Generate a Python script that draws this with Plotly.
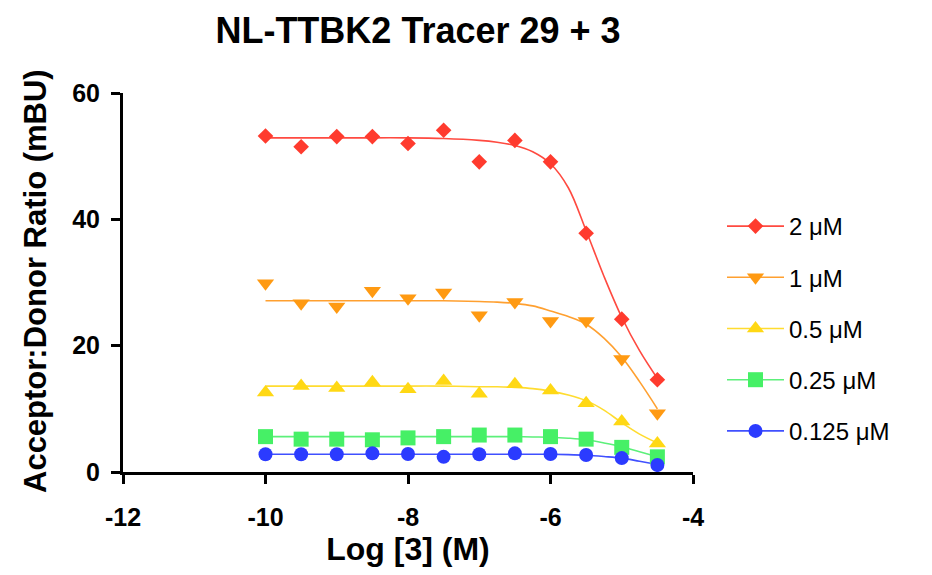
import plotly.graph_objects as go

log_conc = [-10, -9.5, -9, -8.5, -8, -7.5, -7, -6.5, -6, -5.5, -5, -4.5]

series_names = ["2 μM", "1 μM", "0.5 μM", "0.25 μM", "0.125 μM"]

y_2uM = [53.2, 51.5, 53.1, 53.1, 52.0, 54.1, 49.1, 52.5, 49.1, 37.8, 24.2, 14.6]
y_1uM = [29.9, 26.7, 26.2, 28.7, 27.5, 28.4, 24.8, 26.9, 23.9, 23.9, 17.9, 9.3]
y_05uM = [12.6, 13.6, 13.3, 14.2, 13.1, 14.4, 12.4, 13.9, 12.9, 10.9, 8.0, 4.5]
y_025uM = [5.6, 5.2, 5.2, 5.1, 5.4, 5.6, 5.85, 5.85, 5.6, 5.2, 3.9, 2.4]
y_0125uM = [2.8, 2.8, 2.8, 2.95, 2.85, 2.4, 2.8, 2.95, 2.85, 2.7, 2.2, 1.1]

# fitted curves
fit_x = [-10, -9.5, -9, -8.5, -8, -7.5, -7, -6.75, -6.5, -6.25, -6, -5.75, -5.5, -5.25, -5, -4.75, -4.5]
fit_2uM = [52.9, 52.9, 52.9, 52.9, 52.9, 52.8, 52.5, 52.2, 51.7, 50.7, 48.8, 45.0, 38.2, 31.0, 24.5, 19.2, 14.8]
fit_1uM = [27.1, 27.1, 27.1, 27.1, 27.1, 27.1, 27.0, 26.9, 26.7, 26.3, 25.5, 24.6, 23.4, 21.2, 18.2, 14.3, 10.0]
fit_05uM = [13.6, 13.6, 13.6, 13.6, 13.6, 13.6, 13.5, 13.5, 13.4, 13.2, 12.8, 12.2, 11.3, 9.8, 7.8, 6.0, 4.6]
fit_025uM = [5.6, 5.6, 5.6, 5.6, 5.6, 5.6, 5.6, 5.6, 5.6, 5.55, 5.5, 5.35, 5.1, 4.6, 4.0, 3.2, 2.4]
fit_0125uM = [2.8, 2.8, 2.8, 2.8, 2.8, 2.8, 2.8, 2.8, 2.8, 2.8, 2.8, 2.75, 2.65, 2.45, 2.2, 1.7, 1.2]

x_ticks = [-12, -10, -8, -6, -4]
x_tick_labels = ["-12", "-10", "-8", "-6", "-4"]
y_ticks = [0, 20, 40, 60]
y_tick_labels = ["0", "20", "40", "60"]

points = [y_2uM, y_1uM, y_05uM, y_025uM, y_0125uM]
fits = [fit_2uM, fit_1uM, fit_05uM, fit_025uM, fit_0125uM]
marker_colors = ["#FF3B2E", "#FF9A12", "#FFD814", "#46F066", "#2B3BFF"]
line_colors = ["#FF4A40", "#FFA030", "#FFDC30", "#5CF07A", "#4050FF"]
symbols = ["diamond", "triangle-down", "triangle-up", "square", "circle"]
sizes = [12, 15, 15, 15, 14]

FONT = "Liberation Sans, Arial, sans-serif"

fig = go.Figure()
for i, name in enumerate(series_names):
    fig.add_trace(go.Scatter(
        x=fit_x, y=fits[i], mode="lines", line=dict(color=line_colors[i], width=1.6, shape="spline"),
        showlegend=False, hoverinfo="skip"))
for i, name in enumerate(series_names):
    fig.add_trace(go.Scatter(
        x=log_conc, y=points[i], mode="markers", showlegend=False,
        marker=dict(symbol=symbols[i], size=sizes[i], color=marker_colors[i], line=dict(width=0))))
for i, name in enumerate(series_names):
    fig.add_trace(go.Scatter(
        x=[None], y=[None], mode="lines+markers", name=name, legendgroup=name,
        line=dict(color=line_colors[i], width=1.6),
        marker=dict(symbol=symbols[i], size=sizes[i], color=marker_colors[i], line=dict(width=0))))

# page body has an 8px default margin; plot area placed so it lands at x 123-693, y 93-472 on screen
L, T, R, B = 115, 85, 685, 464
tick_font = dict(family=FONT, size=25, color="black")
fig.update_layout(
    width=932, height=575,
    margin=dict(l=L, r=932 - R, t=T, b=575 - B),
    paper_bgcolor="white", plot_bgcolor="white",
    title=dict(text="<b>NL-TTBK2 Tracer 29 + 3</b>", x=410/932, xanchor="center", y=1 - 22/575, yanchor="middle",
               font=dict(family=FONT, size=36, color="black")),
    xaxis=dict(range=[-12, -4], tickvals=x_ticks, ticktext=["<b>%s</b>" % t for t in x_tick_labels],
               showline=True, linecolor="black", linewidth=3, automargin=False,
               ticks="outside", ticklen=9, tickwidth=3, tickcolor="black", showgrid=False, zeroline=False,
               tickfont=tick_font, ticklabelstandoff=12,
               title=dict(text="<b>Log [3] (M)</b>", font=dict(family=FONT, size=32, color="black"), standoff=5)),
    yaxis=dict(range=[0, 60], tickvals=y_ticks, ticktext=["<b>%s</b>" % t for t in y_tick_labels],
               showline=True, linecolor="black", linewidth=3, automargin=False,
               ticks="outside", ticklen=9, tickwidth=3, tickcolor="black", showgrid=False, zeroline=False,
               tickfont=tick_font, ticklabelstandoff=6),
    annotations=[dict(text="<b>Acceptor:Donor Ratio (mBU)</b>", textangle=-90, showarrow=False,
                      xref="paper", yref="paper", x=(27 - L) / (R - L), y=(B - 273) / (B - T),
                      xanchor="center", yanchor="middle",
                      font=dict(family=FONT, size=31, color="black"))],
    legend=dict(x=(714 - L) / (R - L), xanchor="left", y=(B - 196) / (B - T), yanchor="top",
                font=dict(family=FONT, size=24, color="black"),
                tracegroupgap=17, itemwidth=57, bgcolor="rgba(0,0,0,0)"),
    showlegend=True,
)

fig.write_html("out.html")
